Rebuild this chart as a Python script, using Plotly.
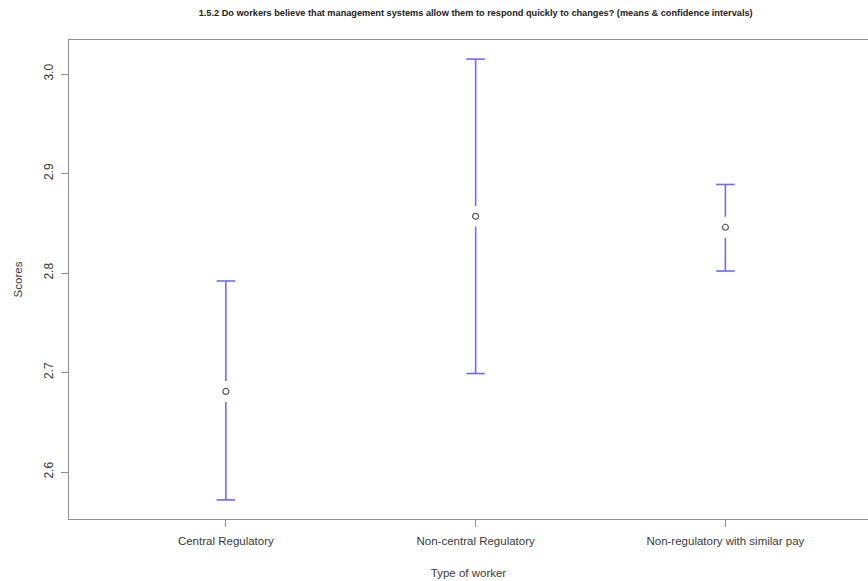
import plotly.graph_objects as go

# Survey results: mean score with lower/upper confidence limits per worker type
categories = ["Central Regulatory", "Non-central Regulatory", "Non-regulatory with similar pay"]
means = [2.681, 2.857, 2.846]
lower = [2.572, 2.699, 2.802]
upper = [2.792, 3.015, 2.889]
y_ticks = [2.6, 2.7, 2.8, 2.9, 3.0]

xpos = list(range(len(categories)))
cap_half = 0.037   # half width of the whisker caps (x units)
gap = 0.0105       # break in the whisker around the point (y units)

# Build whisker segments, broken around each mean marker
xs, ys = [], []
for x, m, lo, hi in zip(xpos, means, lower, upper):
    xs += [x - cap_half, x + cap_half, None, x, x, None, x, x, None, x - cap_half, x + cap_half, None]
    ys += [hi, hi, None, hi, m + gap, None, m - gap, lo, None, lo, lo, None]

fig = go.Figure()
fig.add_trace(go.Scatter(
    x=xs, y=ys, mode="lines",
    line=dict(color="#6b6bff", width=1.6),
    hoverinfo="skip", showlegend=False,
))
fig.add_trace(go.Scatter(
    x=xpos, y=means, mode="markers",
    marker=dict(symbol="circle-open", size=6, color="#555555", line=dict(width=1.2, color="#555555")),
    showlegend=False,
))

font_family = "Liberation Sans, Arial, sans-serif"
fig.update_layout(
    width=868, height=581,
    margin=dict(l=69, r=0, t=40, b=62),
    paper_bgcolor="white", plot_bgcolor="white",
    font=dict(family=font_family, color="#333333"),
    title=dict(
        text="<b>1.5.2 Do workers believe that management systems allow them to respond quickly to changes? (means &amp; confidence intervals)</b>",
        x=0.548, xanchor="center", y=0.978, yanchor="middle",
        font=dict(size=9.2, color="#222222", family=font_family),
    ),
    xaxis=dict(
        range=[-0.628, 2.571],
        tickmode="array", tickvals=xpos, ticktext=categories,
        showgrid=False, zeroline=False,
        showline=True, mirror=True, linecolor="#909090", linewidth=1.4,
        ticks="outside", ticklen=7, tickcolor="#909090", tickwidth=1,
        ticklabelstandoff=4,
        tickfont=dict(size=11.5, color="#3a3a3a"),
        title=dict(text="Type of worker", font=dict(size=11.5, color="#3a3a3a"), standoff=22),
    ),
    yaxis=dict(
        range=[2.5528, 3.0342],
        tickmode="array", tickvals=y_ticks, ticktext=[f"{v:.1f}" for v in y_ticks],
        tickangle=-90,
        showgrid=False, zeroline=False,
        showline=True, linecolor="#909090", linewidth=1.4,
        ticks="outside", ticklen=7, tickcolor="#909090", tickwidth=1,
        ticklabelstandoff=3,
        tickfont=dict(size=12, color="#3a3a3a"),
        title=dict(text="Scores", font=dict(size=11.5, color="#3a3a3a"), standoff=16),
    ),
)

fig.write_html("out.html")
